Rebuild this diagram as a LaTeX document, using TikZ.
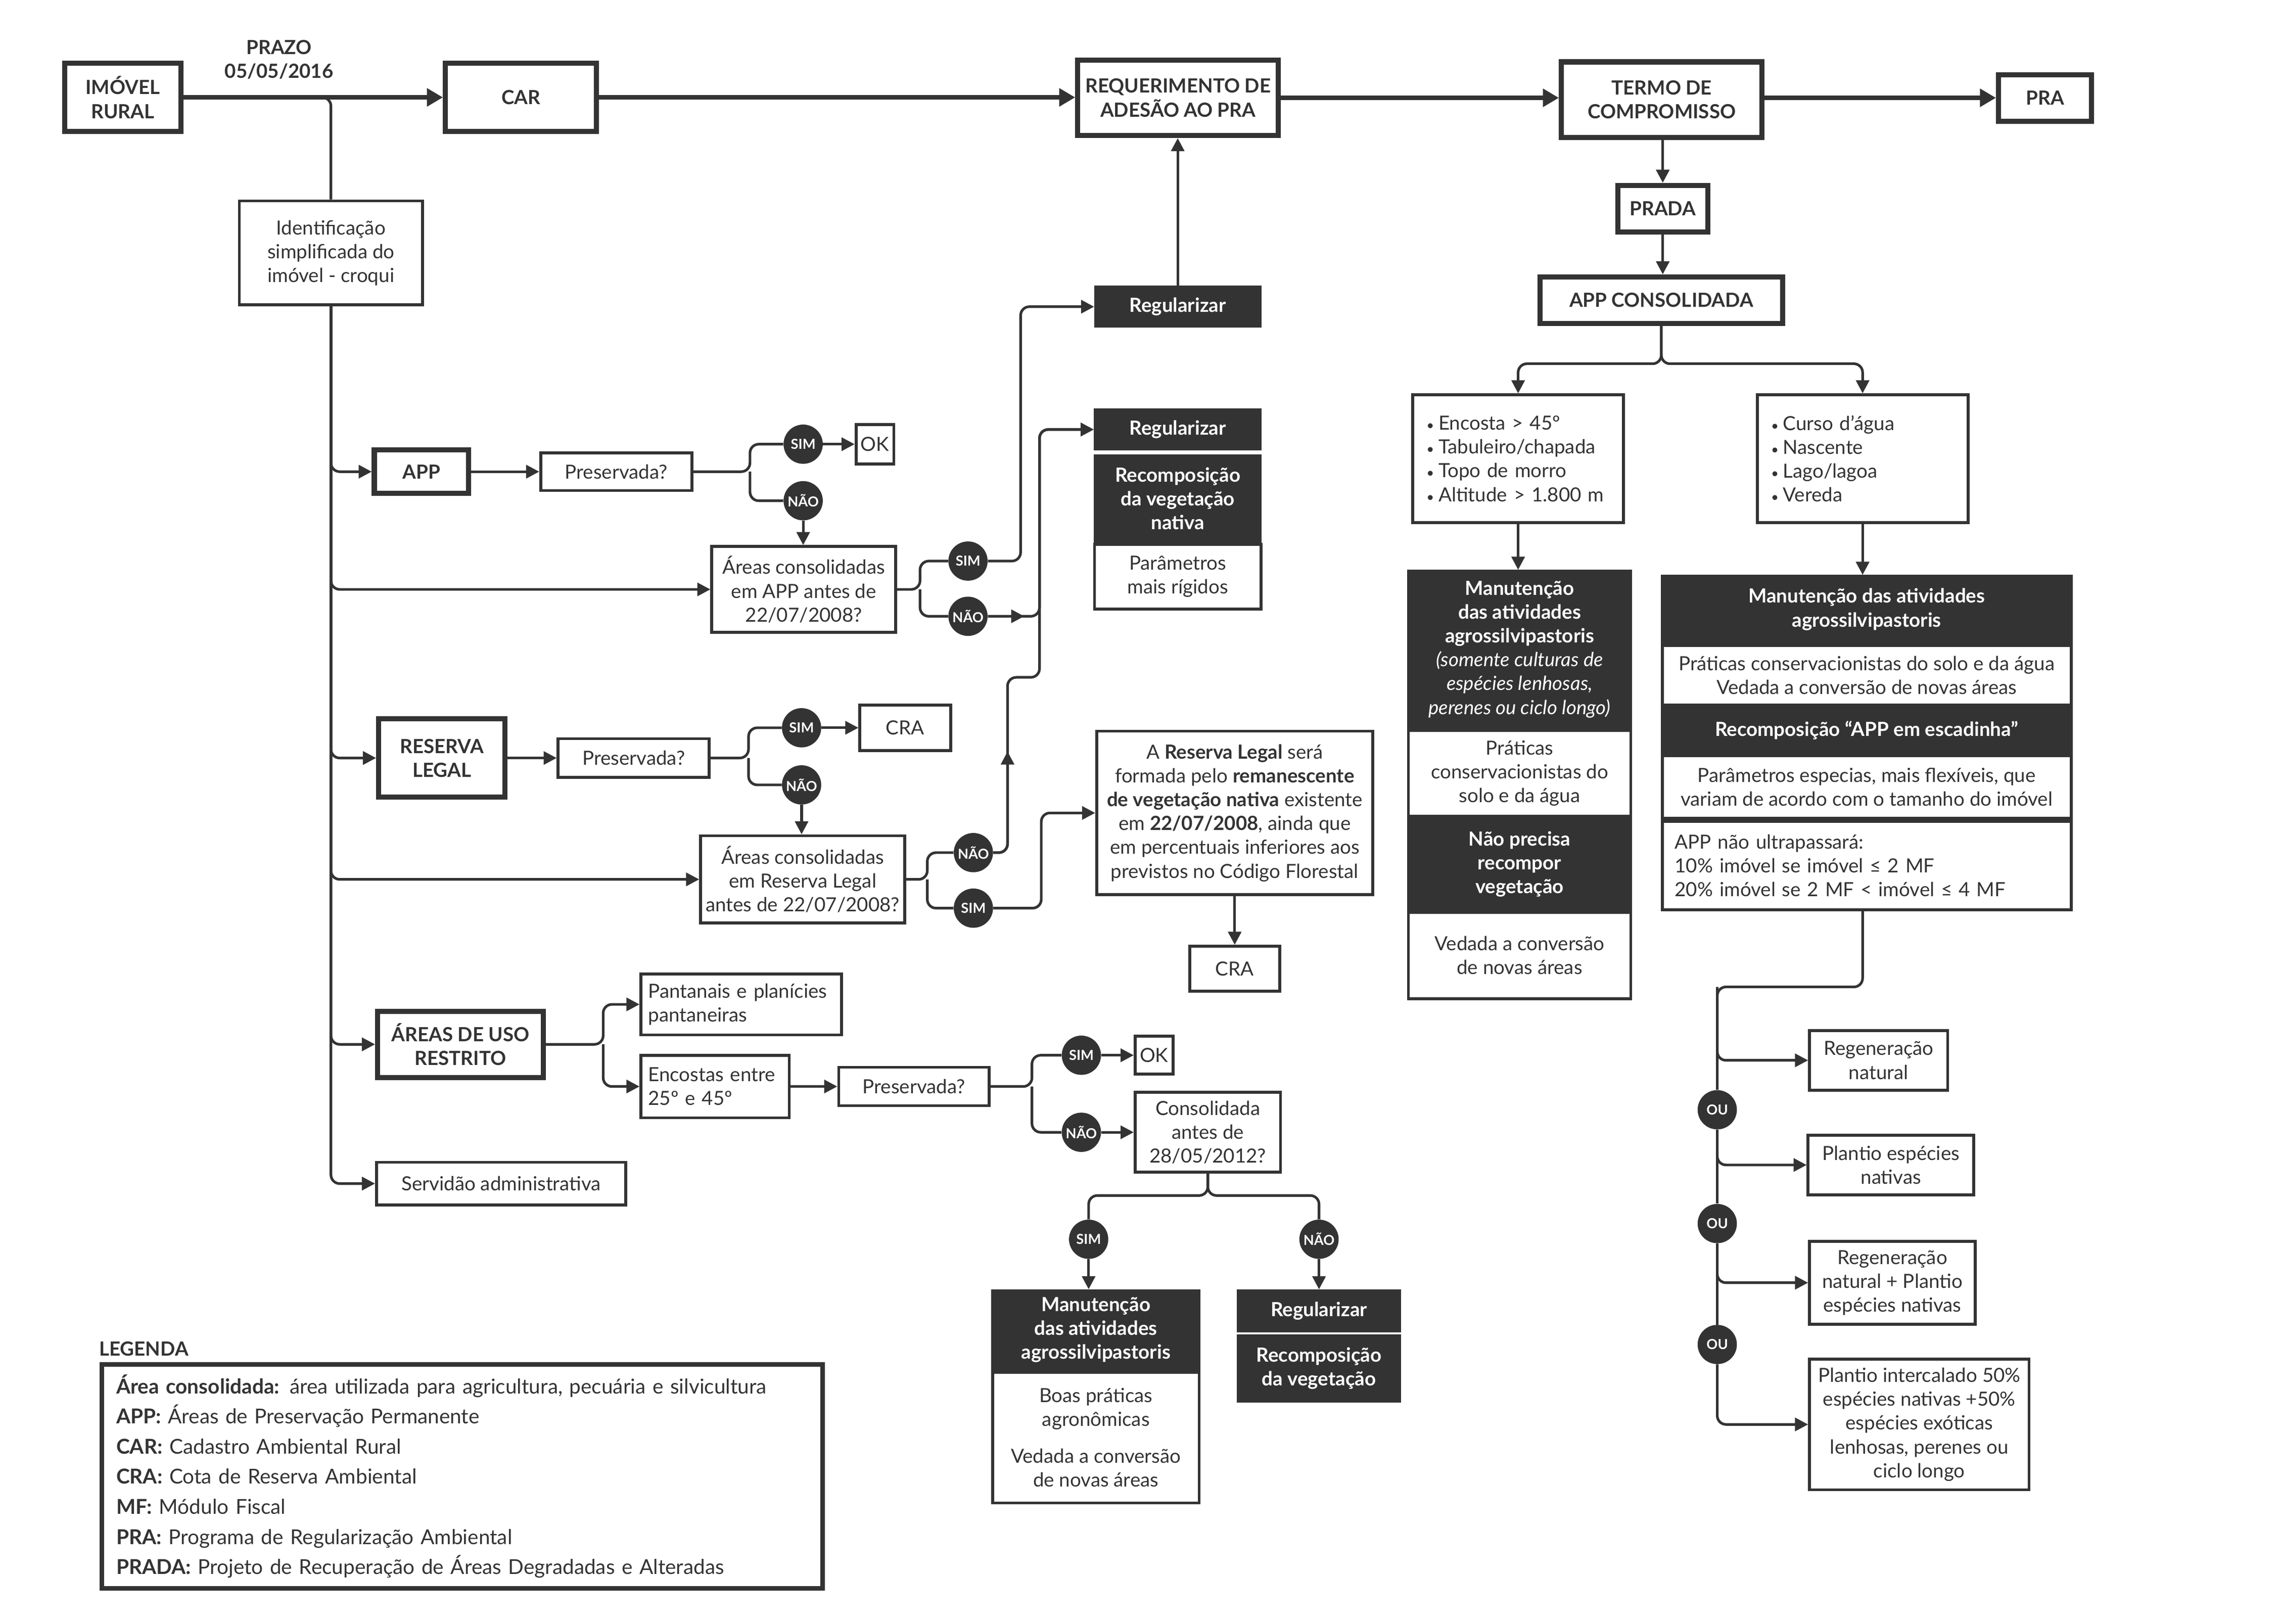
\documentclass[tikz,border=0pt]{standalone}
\usepackage{fontspec}
\setmainfont{Lato}
\usetikzlibrary{arrows.meta,calc}
\definecolor{ink}{HTML}{333333}
\newcommand\basesize{\fontsize{13.4}{16.4}\selectfont}
\newcommand\dotitem{{\fontsize{9}{9}\selectfont •}\hspace{3pt}}
\tikzset{
  >={Triangle[length=9pt,width=9pt]},
  wire/.style={draw=ink,line width=1.8pt,rounded corners=6pt},
  mainwire/.style={draw=ink,line width=3pt,-{Triangle[length=11pt,width=12pt]}},
  bigbox/.style={draw=ink,line width=3.5pt,font=\basesize\bfseries,align=center,inner sep=2pt},
  thinbox/.style={draw=ink,line width=2pt,align=center,inner sep=2pt},
  darkbox/.style={fill=ink,draw=ink,line width=1pt,text=white,font=\basesize\bfseries,align=center,inner sep=2pt},
  yesno/.style={circle,fill=ink,text=white,font=\fontsize{9.5}{10}\selectfont\bfseries,minimum size=27pt,inner sep=0pt},
}
\begin{document}
\begin{tikzpicture}[x=1pt,y=-1pt,color=ink,font=\basesize]
\useasboundingbox (0,0) rectangle (1568,1117.3);

\node[bigbox,minimum width=80pt,minimum height=47pt] (imovel) at (84.5,67) {IMÓVEL\\RURAL};
\node[font=\basesize\bfseries,align=center] (prazo) at (192,41) {PRAZO\\05/05/2016};
\node[bigbox,minimum width=104pt,minimum height=47pt] (car) at (358.5,67) {CAR};
\node[bigbox,minimum width=138pt,minimum height=52pt] (req) at (810.5,67.3) {REQUERIMENTO DE\\ADESÃO AO PRA};
\node[bigbox,minimum width=138pt,minimum height=52pt] (termo) at (1143.3,68.6) {TERMO DE\\COMPROMISSO};
\node[bigbox,minimum width=64pt,minimum height=32pt] (pra) at (1407,67.3) {PRA};
\node[bigbox,minimum width=62pt,minimum height=32pt] (prada) at (1144,143.5) {PRADA};
\node[bigbox,minimum width=167pt,minimum height=32pt] (appcons) at (1143,206.5) {APP CONSOLIDADA};
\coordinate (t0) at (219,67);

\node[thinbox,minimum width=126pt,minimum height=71.5pt] (idcroqui) at (227.7,174) {Identificação\\simplificada do\\imóvel - croqui};
\node[darkbox,minimum width=114pt,minimum height=28pt] (reg1) at (810.3,211) {Regularizar};

\node[bigbox,minimum width=65pt,minimum height=30pt] (apps) at (290,324.5) {APP};
\node[thinbox,minimum width=104pt,minimum height=26pt] (pres1) at (424,324.5) {Preservada?};
\coordinate (f1) at (516,324.5);
\node[yesno] (sim1) at (552.6,305.6) {SIM};
\node[yesno] (nao1) at (552.6,344.5) {NÃO};
\node[thinbox,minimum width=26pt,minimum height=27pt] (ok1) at (602,305.6) {OK};
\node[thinbox,minimum width=126.5pt,minimum height=59pt] (cons1) at (553,405.5) {Áreas consolidadas\\em APP antes de\\22/07/2008?};
\coordinate (f2) at (633,405.5);
\node[yesno] (sim2) at (666,386) {SIM};
\node[yesno] (nao2) at (666,424) {NÃO};
\node[darkbox,minimum width=114.6pt,minimum height=28pt] (reg2) at (810.3,295.5) {Regularizar};
\node[darkbox,minimum width=114.6pt,minimum height=60pt] (recomp1) at (810.3,343) {Recomposição\\da vegetação\\nativa};
\node[thinbox,minimum width=114.6pt,minimum height=44.6pt] (param1) at (810.3,396.8) {Parâmetros\\mais rígidos};

\node[bigbox,minimum width=87pt,minimum height=54pt] (rl) at (304,521.5) {RESERVA\\LEGAL};
\node[thinbox,minimum width=104pt,minimum height=26.5pt] (pres2) at (436,521.5) {Preservada?};
\coordinate (f3) at (515,521.5);
\node[yesno] (sim3) at (551.5,500.7) {SIM};
\node[yesno] (nao3) at (551.5,540) {NÃO};
\node[thinbox,minimum width=62.4pt,minimum height=31.3pt] (cra1) at (622.8,500.7) {CRA};
\node[thinbox,minimum width=140.5pt,minimum height=60pt] (cons2) at (552.3,605) {Áreas consolidadas\\em Reserva Legal\\antes de 22/07/2008?};
\coordinate (f4) at (638,605);
\node[yesno] (nao4) at (669.7,586.6) {NÃO};
\node[yesno] (sim4) at (669.7,624.8) {SIM};
\node[thinbox,minimum width=190pt,minimum height=112.5pt] (rltext) at (849.5,559.3) {A \textbf{Reserva Legal} será\\formada pelo \textbf{remanescente}\\\textbf{de vegetação nativa} existente\\em \textbf{22/07/2008}, ainda que\\em percentuais inferiores aos\\previstos no Código Florestal};
\node[thinbox,minimum width=62pt,minimum height=31pt] (cra2) at (849.5,666.5) {CRA};

\node[bigbox,minimum width=114pt,minimum height=45.5pt] (aur) at (316.8,718.5) {ÁREAS DE USO\\RESTRITO};
\coordinate (f5) at (415,718.5);
\node[thinbox,minimum width=138pt,minimum height=42pt,text width=128pt,align=left] (pant) at (510,691) {Pantanais e planícies\\pantaneiras};
\node[thinbox,minimum width=102pt,minimum height=43pt,text width=92pt,align=left] (enc) at (492,747.5) {Encostas entre\\25º e 45º};
\node[thinbox,minimum width=103.5pt,minimum height=26.4pt] (pres3) at (628.8,747.5) {Preservada?};
\coordinate (f6) at (710,747.5);
\node[yesno] (sim5) at (744,726) {SIM};
\node[yesno] (nao5) at (744,779) {NÃO};
\node[thinbox,minimum width=26pt,minimum height=26pt] (ok2) at (794,726) {OK};
\node[thinbox,minimum width=100pt,minimum height=55pt] (cons3) at (831,779) {Consolidada\\antes de\\28/05/2012?};
\node[yesno] (sim6) at (749,852.6) {SIM};
\node[yesno] (nao6) at (907.5,852.6) {NÃO};
\node[darkbox,minimum width=143pt,minimum height=55pt] (man3a) at (754,915) {Manutenção\\das atividades\\agrossilvipastoris};
\node[thinbox,minimum width=142pt,minimum height=90pt] (man3b) at (754,989) {Boas práticas\\agronômicas\\[9pt]Vedada a conversão\\de novas áreas};
\node[darkbox,minimum width=112pt,minimum height=28.7pt] (reg3) at (907.5,901.9) {Regularizar};
\node[darkbox,minimum width=112pt,minimum height=46pt] (recomp2) at (907.5,941.5) {Recomposição\\da vegetação};
\node[thinbox,minimum width=171.5pt,minimum height=29.4pt] (serv) at (344.8,814.3) {Servidão administrativa};

\node[thinbox,minimum width=145pt,minimum height=88pt,text width=126pt,align=left] (bl) at (1044.5,315.6) {\dotitem Encosta > 45º\\\dotitem Tabuleiro/chapada\\\dotitem Topo de morro\\\dotitem Altitude > 1.800 m};
\node[thinbox,minimum width=145pt,minimum height=88pt,text width=126pt,align=left] (br) at (1281.5,315.6) {\dotitem Curso d’água\\\dotitem Nascente\\\dotitem Lago/lagoa\\\dotitem Vereda};
\node[darkbox,minimum width=154pt,minimum height=108.5pt] (manL1) at (1045.5,446.75) {Manutenção\\das atividades\\agrossilvipastoris\\{\mdseries\itshape (somente culturas de}\\{\mdseries\itshape espécies lenhosas,}\\{\mdseries\itshape perenes ou ciclo longo)}};
\node[thinbox,minimum width=153pt,minimum height=59pt] (manL2) at (1045.5,532) {Práticas\\conservacionistas do\\solo e da água};
\node[darkbox,minimum width=154pt,minimum height=63pt] (manL3) at (1045.5,594.5) {Não precisa\\recompor\\vegetação};
\node[thinbox,minimum width=153pt,minimum height=59.5pt] (manL4) at (1045.5,657.3) {Vedada a conversão\\de novas áreas};
\node[darkbox,minimum width=282.4pt,minimum height=46.5pt] (manR1) at (1284.3,419.25) {Manutenção das atividades\\agrossilvipastoris};
\node[thinbox,minimum width=281.4pt,minimum height=41pt] (manR2) at (1284.3,464.5) {Práticas conservacionistas do solo e da água\\Vedada a conversão de novas áreas};
\node[darkbox,minimum width=282.4pt,minimum height=32pt] (manR3) at (1284.3,502.5) {Recomposição “APP em escadinha”};
\node[thinbox,minimum width=281.4pt,minimum height=43pt] (manR4) at (1284.3,541.5) {Parâmetros especias, mais flexíveis, que\\variam de acordo com o tamanho do imóvel};
\node[thinbox,minimum width=281.4pt,minimum height=61pt,text width=264pt,align=left] (manR5) at (1284.3,595.5) {APP não ultrapassará:\\10\% imóvel se imóvel ≤ 2 MF\\20\% imóvel se 2 MF < imóvel ≤ 4 MF};
\coordinate (v0) at (1181.5,679);
\node[yesno] (ou1) at (1181.5,763.5) {OU};
\node[yesno] (ou2) at (1181.5,841.8) {OU};
\node[yesno] (ou3) at (1181.5,925) {OU};
\node[thinbox,minimum width=95pt,minimum height=41pt] (regnat) at (1292.5,729.5) {Regeneração\\natural};
\node[thinbox,minimum width=114pt,minimum height=41pt] (plnat) at (1301,801.5) {Plantio espécies\\nativas};
\node[thinbox,minimum width=114pt,minimum height=57pt] (regpl) at (1302,882.5) {Regeneração\\natural + Plantio\\espécies nativas};
\node[thinbox,minimum width=151pt,minimum height=90pt] (plint) at (1320.5,980) {Plantio intercalado 50\%\\espécies nativas +50\%\\espécies exóticas\\lenhosas, perenes ou\\ciclo longo};

\node[font=\basesize\bfseries,anchor=west,inner sep=0pt] (legtitle) at (68,928) {LEGENDA};
\node[draw=ink,line width=3pt,anchor=north west,minimum width=496pt,minimum height=154pt,text width=476pt,align=left,inner xsep=9pt,font=\fontsize{14.1}{20.7}\selectfont] (legbox) at (68.5,937.2) {\textbf{Área consolidada:} área utilizada para agricultura, pecuária e silvicultura\\\textbf{APP:} Áreas de Preservação Permanente\\\textbf{CAR:} Cadastro Ambiental Rural\\\textbf{CRA:} Cota de Reserva Ambiental\\\textbf{MF:} Módulo Fiscal\\\textbf{PRA:} Programa de Regularização Ambiental\\\textbf{PRADA:} Projeto de Recuperação de Áreas Degradadas e Alteradas};

\draw[mainwire] (imovel.east) -- (imovel.east -| car.west);
\draw[mainwire] (car.east) -- (car.east -| req.west);
\draw[mainwire] (req.east) -- (req.east -| termo.west);
\draw[mainwire] (termo.east |- req.east) -- (req.east -| pra.west);
\draw[wire,->] (termo.south -| prada.north) -- (prada.north);
\draw[wire,->] (prada.south) -- (prada.south |- appcons.north);
\draw[wire,->] (reg1.north) -- (reg1.north |- req.south);

\draw[wire] (t0) -| (idcroqui.north);
\draw[wire,->] (idcroqui.south) |- (apps.west);
\draw[wire,->] (idcroqui.south) |- (cons1.west);
\draw[wire,->] (idcroqui.south) |- (rl.west);
\draw[wire,->] (idcroqui.south) |- (cons2.west);
\draw[wire,->] (idcroqui.south) |- (aur.west);
\draw[wire,->] (idcroqui.south) |- (serv.west);

\draw[wire,->] (apps.east) -- (apps.east -| pres1.west);
\draw[wire] (pres1.east) -- (f1) |- (sim1.west);
\draw[wire] (f1) |- (nao1.west);
\draw[wire,->] (sim1.east) -- (sim1.east -| ok1.west);
\draw[wire,->] (nao1.south) -- (nao1.south |- cons1.north);
\draw[wire] (cons1.east) -- (f2) |- (sim2.west);
\draw[wire] (f2) |- (nao2.west);
\draw[wire,->] (sim2.east) -- ++(22.5,0) |- (reg1.west);
\draw[wire,->] (nao2.east) -- ++(25,0);
\draw[wire,->] (nao2.east) -- ++(35.5,0) |- (reg2.west);

\draw[wire,->] (rl.east) -- (rl.east -| pres2.west);
\draw[wire] (pres2.east) -- (f3) |- (sim3.west);
\draw[wire] (f3) |- (nao3.west);
\draw[wire,->] (sim3.east) -- (sim3.east -| cra1.west);
\draw[wire,->] (nao3.south) -- (nao3.south |- cons2.north);
\draw[wire] (cons2.east) -- (f4) |- (nao4.west);
\draw[wire] (f4) |- (sim4.west);
\draw[wire,->] (nao4.east) -- ++(9.8,0) -- ++(0,-69.6);
\draw[wire,->] (nao4.east) -- ++(9.8,0) -- ++(0,-120.6) -- ++(22,0) |- (reg2.west);
\draw[wire,->] (sim4.east) -- ++(33,0) |- (rltext.west);
\draw[wire,->] (rltext.south) -- (rltext.south |- cra2.north);

\draw[wire,->] (aur.east) -- (f5) |- (pant.west);
\draw[wire,->] (f5) |- (enc.west);
\draw[wire,->] (enc.east) -- (enc.east -| pres3.west);
\draw[wire] (pres3.east) -- (f6) |- (sim5.west);
\draw[wire] (f6) |- (nao5.west);
\draw[wire,->] (sim5.east) -- (sim5.east -| ok2.west);
\draw[wire,->] (nao5.east) -- (nao5.east -| cons3.west);
\draw[wire] (cons3.south) -- ++(0,15) -| (sim6.north);
\draw[wire] (cons3.south) -- ++(0,15) -| (nao6.north);
\draw[wire,->] (sim6.south) -- (sim6.south |- man3a.north);
\draw[wire,->] (nao6.south) -- (nao6.south |- reg3.north);

\draw[wire,->] (appcons.south) -- ++(0,26) -| (bl.north);
\draw[wire,->] (appcons.south) -- ++(0,26) -| (br.north);
\draw[wire,->] (bl.south) -- (bl.south |- manL1.north);
\draw[wire,->] (br.south) -- (br.south |- manR1.north);
\draw[wire] (manR5.south -| br.south) |- (v0) -- (ou1.north);
\draw[wire,->] (v0) |- (regnat.west);
\draw[wire,->] (ou1.south) |- (plnat.west);
\draw[wire] (ou1.south) -- (ou2.north);
\draw[wire,->] (ou2.south) |- (regpl.west);
\draw[wire] (ou2.south) -- (ou3.north);
\draw[wire,->] (ou3.south) |- (plint.west);
\end{tikzpicture}
\end{document}
